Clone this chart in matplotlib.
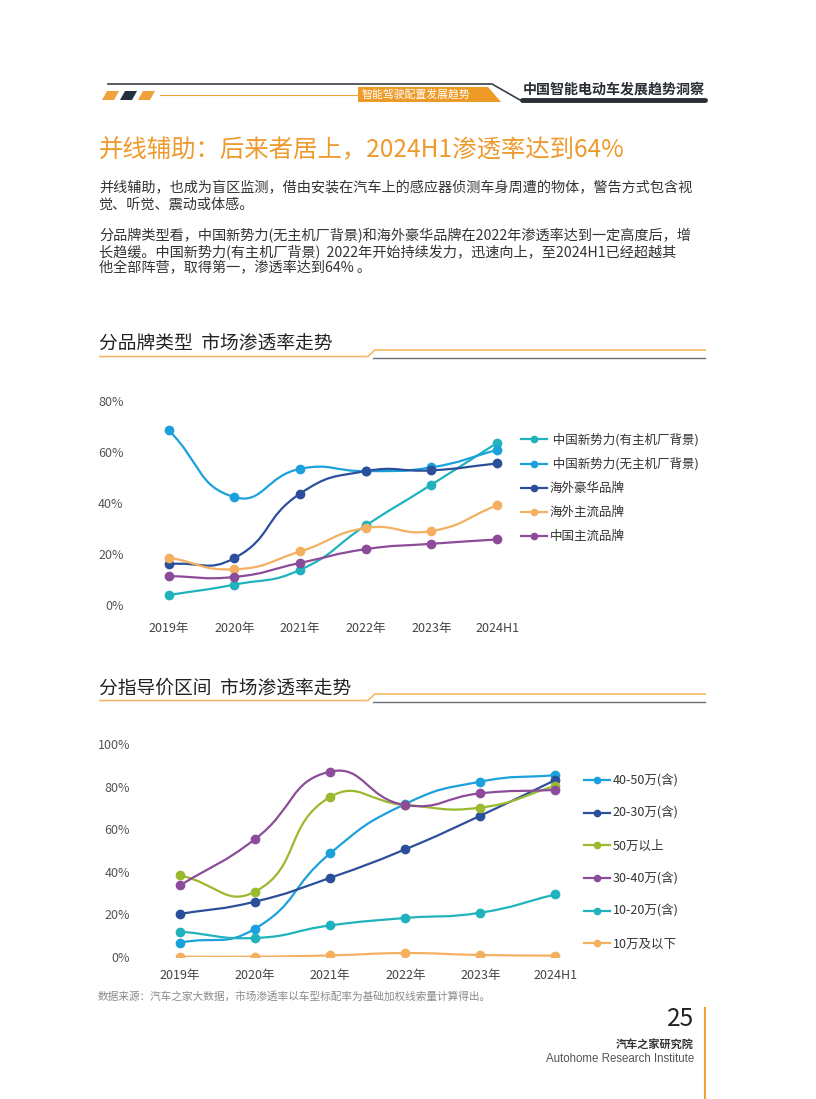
import numpy as np
import matplotlib
matplotlib.use('Agg')
import matplotlib.pyplot as plt
from matplotlib.path import Path
from matplotlib.patches import PathPatch, Polygon

plt.rcParams['font.family'] = ['Noto Sans CJK SC', 'DejaVu Sans']

W, H = 816, 1099

###### data: chart 1 (brand type) ######
years = ['2019年', '2020年', '2021年', '2022年', '2023年', '2024H1']
brand_names = [' 中国新势力(有主机厂背景)', ' 中国新势力(无主机厂背景)', '海外豪华品牌', '海外主流品牌', '中国主流品牌']
brand_xin_you = [3.9, 8.0, 13.8, 31.2, 47.2, 63.6]
brand_xin_wu = [68.5, 42.3, 53.4, 52.5, 54.0, 60.8]
brand_haiwai_hh = [16.0, 18.4, 43.7, 52.5, 52.8, 55.5]
brand_haiwai_zl = [18.6, 14.0, 21.0, 30.2, 29.0, 39.1]
brand_china_zl = [11.3, 11.0, 16.5, 21.9, 24.0, 25.7]

###### data: chart 2 (price range) ######
price_names = ['40-50万(含)', '20-30万(含)', '50万以上', '30-40万(含)', '10-20万(含)', '10万及以下']
price_40_50 = [6.6, 13.2, 48.6, 71.8, 82.3, 85.4]
price_20_30 = [20.1, 25.9, 37.1, 50.5, 66.3, 83.1]
price_50_up = [38.2, 30.6, 75.1, 71.3, 70.1, 80.3]
price_30_40 = [33.5, 55.3, 87.0, 71.3, 76.8, 78.4]
price_10_20 = [11.8, 8.8, 14.7, 18.2, 20.7, 29.3]
price_10_down = [0.0, 0.0, 0.6, 1.7, 0.8, 0.5]

TEAL = '#20B3BD'
LBLUE = '#1BA1DB'
DBLUE = '#2B4F9B'
ORANGE = '#F3B060'
PURPLE = '#8D4C9A'
GREEN = '#9BB92F'

fig = plt.figure(figsize=(W / 100, H / 100), dpi=100)

# overlay in pixel coordinates for page decoration
deco = fig.add_axes([0, 0, 1, 1])
deco.set_xlim(0, W)
deco.set_ylim(H, 0)
deco.axis('off')


def px_axes(x0, y0, x1, y1):
    # y0 top, y1 bottom in page pixels
    return fig.add_axes([x0 / W, 1 - y1 / H, (x1 - x0) / W, (y1 - y0) / H])


def smooth_line(ax, xs, ys, color, smooth=0.5):
    # echarts style smooth curve through the points (bezier, computed in pixel scale)
    bb = ax.get_position()
    xl, yl = ax.get_xlim(), ax.get_ylim()
    sx = bb.width * W / (xl[1] - xl[0])
    sy = bb.height * H / (yl[1] - yl[0])
    p = np.column_stack([np.asarray(xs, float) * sx, np.asarray(ys, float) * sy])
    n = len(p)
    cin, cout = [], []
    for i in range(n):
        prev = p[i - 1] if i > 0 else p[i]
        nxt = p[i + 1] if i < n - 1 else p[i]
        v = nxt - prev
        lp = np.hypot(*(p[i] - prev))
        ln = np.hypot(*(nxt - p[i]))
        r = ln / (ln + lp) if (ln + lp) > 0 else 0.5
        cin.append(p[i] - v * smooth * (1 - r))
        cout.append(p[i] + v * smooth * r)
    verts = [p[0]]
    codes = [Path.MOVETO]
    for i in range(1, n):
        verts += [cout[i - 1], cin[i], p[i]]
        codes += [Path.CURVE4] * 3
    verts = np.array(verts) / [sx, sy]
    ax.add_patch(PathPatch(Path(verts, codes), fc='none', ec=color, lw=1.6, zorder=2))


def line_chart(ax, series, names, colors, ymax, step):
    x = np.arange(len(years))
    ax.set_xlim(-0.5, len(years) - 0.5)
    ax.set_ylim(0, ymax)
    for vals, name, c in zip(series, names, colors):
        smooth_line(ax, x, vals, c)
        ax.plot(x, vals, color=c, lw=1.6, marker='o', ms=6, ls='none', zorder=3)
        ax.plot([], [], color=c, lw=1.6, marker='o', ms=4.5, label=name)
    ax.set_yticks(np.arange(0, ymax + 1, step))
    ax.set_yticklabels(['{}%'.format(v) for v in np.arange(0, ymax + 1, step)])
    ax.set_xticks(x)
    ax.set_xticklabels(years)
    for s in ax.spines.values():
        s.set_visible(False)
    ax.tick_params(length=0)
    ax.tick_params(axis='y', labelsize=9, labelcolor='#555555', pad=9)
    ax.patch.set_alpha(0)


###### header ######
deco.plot([108, 492, 520, 705], [84, 84, 100, 100], color='#3a3f47', lw=1.2)
deco.plot([522, 705], [100, 100], color='#2a2e35', lw=3.5, solid_capstyle='round')
deco.plot([160, 358], [95, 95], color='#F0A23A', lw=0.8)
for i, c in enumerate(['#F0A23A', '#26303f', '#F0A23A']):
    x0 = 102 + i * 18
    deco.add_patch(Polygon([[x0, 100], [x0 + 5, 91], [x0 + 17, 91], [x0 + 12, 100]], closed=True, fc=c, ec='none'))
deco.add_patch(Polygon([[358, 87], [488, 87], [501, 102], [358, 102]], closed=True, fc='#EE9A26', ec='none'))
deco.text(362, 95, '智能驾驶配置发展趋势', fontsize=7.8, color='white', va='center', ha='left')
deco.text(705, 90, '中国智能电动车发展趋势洞察', fontsize=10.1, color='#2a2e35', va='center', ha='right', weight='bold')

###### title and text ######
deco.text(99, 150, '并线辅助：后来者居上，2024H1渗透率达到64%', fontsize=17.6, color='#EE9A2E', va='center', ha='left')
body = ['并线辅助，也成为盲区监测，借由安装在汽车上的感应器侦测车身周遭的物体，警告方式包含视',
        '觉、听觉、震动或体感。']
body2 = ['分品牌类型看，中国新势力(无主机厂背景)和海外豪华品牌在2022年渗透率达到一定高度后，增',
         '长趋缓。中国新势力(有主机厂背景)  2022年开始持续发力，迅速向上，至2024H1已经超越其',
         '他全部阵营，取得第一，渗透率达到64% 。']
for i, t in enumerate(body):
    deco.text(99, 188 + i * 16.5, t, fontsize=10.2, color='#333333', va='center', ha='left')
for i, t in enumerate(body2):
    deco.text(99, 236 + i * 16.2, t, fontsize=10.2, color='#333333', va='center', ha='left')


def section_header(y, text):
    deco.text(99, y, text, fontsize=13.5, color='#222222', va='center', ha='left')
    deco.plot([100, 368, 375, 705], [y + 12.5, y + 12.5, y + 6, y + 6], color='#F2B868', lw=1.2)
    deco.plot([373, 705], [y + 13.5, y + 13.5], color='#6b6f76', lw=1.0)


section_header(344, '分品牌类型  市场渗透率走势')
section_header(688, '分指导价区间  市场渗透率走势')

###### chart 1 ######
ax1 = px_axes(136, 401, 530, 605)
line_chart(ax1,
           [brand_xin_you, brand_xin_wu, brand_haiwai_hh, brand_haiwai_zl, brand_china_zl],
           brand_names, [TEAL, LBLUE, DBLUE, ORANGE, PURPLE], 80, 20)
ax1.tick_params(axis='x', labelsize=9, labelcolor='#444444', pad=12)
leg1 = ax1.legend(loc='upper left', bbox_to_anchor=(521 / W, 1 - 433 / H), bbox_transform=fig.transFigure,
                  frameon=False, fontsize=9, handlelength=2.1, handletextpad=0.2, labelspacing=0.88,
                  borderaxespad=0, borderpad=0)
for t in leg1.get_texts():
    t.set_color('#333333')

###### chart 2 ######
ax2 = px_axes(142.5, 744, 593, 956.7)
line_chart(ax2,
           [price_40_50, price_20_30, price_50_up, price_30_40, price_10_20, price_10_down],
           price_names, [LBLUE, DBLUE, GREEN, PURPLE, TEAL, ORANGE], 100, 20)
ax2.tick_params(axis='x', labelsize=9, labelcolor='#444444', pad=9)
leg2 = ax2.legend(loc='upper left', bbox_to_anchor=(584 / W, 1 - 774 / H), bbox_transform=fig.transFigure,
                  frameon=False, fontsize=9, handlelength=2.1, handletextpad=0.2, labelspacing=1.57,
                  borderaxespad=0, borderpad=0)
for t in leg2.get_texts():
    t.set_color('#333333')

###### source and footer ######
deco.text(98, 996, '数据来源：汽车之家大数据，市场渗透率以车型标配率为基础加权线索量计算得出。', fontsize=7.7,
          color='#8a8a8a', va='center', ha='left')
deco.plot([705, 705], [1008, 1099], color='#F0A23A', lw=1.5)
deco.text(694, 1019, '25', fontsize=17.5, color='#222222', va='center', ha='right')
deco.text(694, 1045, '汽车之家研究院', fontsize=8, color='#333333', va='center', ha='right', weight='bold')
deco.text(694, 1059, 'Autohome Research Institute', fontsize=8.3, color='#555555', va='center', ha='right',
          family=['Liberation Sans', 'DejaVu Sans'])

fig.savefig('out.png', dpi=100)
